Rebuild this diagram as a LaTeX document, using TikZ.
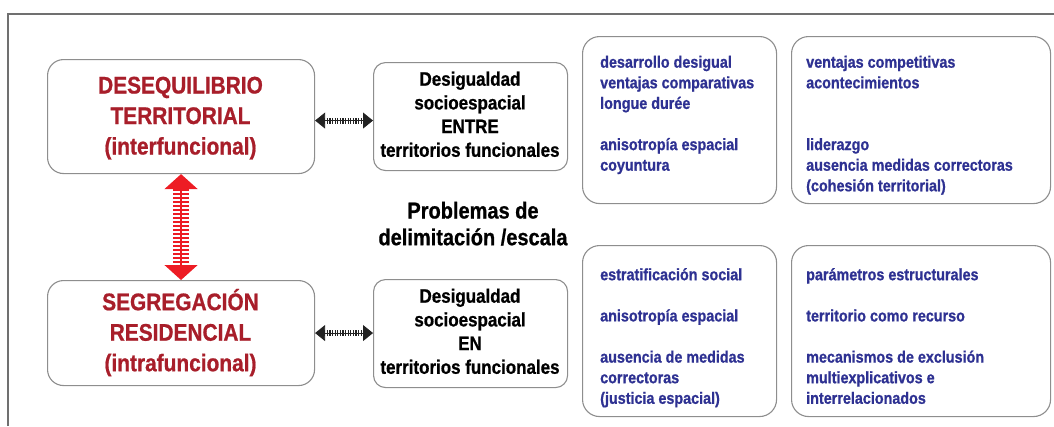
\documentclass[tikz,border=0pt]{standalone}
\usepackage{fontspec}
\setmainfont[FakeStretch=0.87,BoldFeatures={FakeBold=0.8}]{Liberation Sans}
\usetikzlibrary{arrows.meta}
\definecolor{boxgray}{HTML}{8E8E8E}
\definecolor{framegray}{HTML}{707070}
\definecolor{darkred}{HTML}{A81E2A}
\definecolor{navy}{HTML}{2E3192}
\definecolor{arrred}{HTML}{ED1C24}
\definecolor{arrblack}{HTML}{222222}
\newcommand\tstr[1]{\rule{0pt}{#1}}
\begin{document}
\begin{tikzpicture}[x=1pt,y=-1pt,
  box/.style={draw=boxgray, line width=1.1pt, fill=white, inner sep=0pt, anchor=north west},
  redbox/.style={box, rounded corners=16pt},
  blackbox/.style={box, rounded corners=12pt},
  bluebox/.style={box, rounded corners=17pt},
  redtext/.style={inner sep=0pt, anchor=north, align=center, text=darkred, font=\bfseries\fontsize{24}{30.5}\selectfont},
  blacktext/.style={inner sep=0pt, anchor=north, align=center, text=black, font=\bfseries\fontsize{19.5}{23.7}\selectfont},
  bluetext/.style={inner sep=0pt, anchor=north west, align=left, text=navy, font=\bfseries\fontsize{16.5}{20.6}\selectfont},
  probtext/.style={inner sep=0pt, anchor=north, align=center, text=black, font=\bfseries\fontsize{23}{26.7}\selectfont},
  hcore/.style={draw=arrblack, line width=0.8pt, {Triangle[length=10pt,width=16pt]}-{Triangle[length=10pt,width=16pt]}},
  hshaft/.style={draw=arrblack, line width=6pt, dash pattern=on 1.3pt off 1.3pt, shorten <=9pt, shorten >=9pt},
  vcore/.style={draw=arrred, line width=1.6pt, {Triangle[length=15pt,width=33pt]}-{Triangle[length=15pt,width=33pt]}},
  vshaft/.style={draw=arrred, line width=16pt, dash pattern=on 2pt off 2pt, shorten <=15pt, shorten >=15pt}
]
\useasboundingbox (0,0) rectangle (1054,426);
\coordinate (fa) at (8,426);
\coordinate (fb) at (8,14);
\coordinate (fc) at (1054,14);
\draw[framegray, line width=1.5pt] (fa) -- (fb) -- (fc);

% boxes
\node[redbox, minimum width=267pt, minimum height=114pt] (r1) at (47,59) {};
\node[redbox, minimum width=267pt, minimum height=105pt] (r2) at (47,280) {};
\node[blackbox, minimum width=194pt, minimum height=108pt] (b1) at (373,62) {};
\node[blackbox, minimum width=194pt, minimum height=108pt] (b2) at (373,279) {};
\node[bluebox, minimum width=194pt, minimum height=167pt] (c1) at (582,36) {};
\node[bluebox, minimum width=259pt, minimum height=167pt] (c2) at (791,36) {};
\node[bluebox, minimum width=194pt, minimum height=171pt] (c3) at (582,245) {};
\node[bluebox, minimum width=259pt, minimum height=171pt] (c4) at (791,245) {};

% texts
\node[redtext] (r1t) at (180.5,69.3) {\tstr{24pt}DESEQUILIBRIO\\TERRITORIAL\\(interfuncional)};
\node[redtext] (r2t) at (180.5,286) {\tstr{24pt}SEGREGACIÓN\\RESIDENCIAL\\(intrafuncional)};
\node[blacktext] (b1t) at (470,65.5) {\tstr{20pt}Desigualdad\\socioespacial\\ENTRE\\territorios funcionales};
\node[blacktext] (b2t) at (470,282.5) {\tstr{20pt}Desigualdad\\socioespacial\\EN\\territorios funcionales};
\node[probtext] (pt) at (473,194.3) {\tstr{24pt}Problemas de\\delimitación /escala};
\node[bluetext] (c1t) at (600,51.5) {\tstr{16pt}desarrollo desigual\\ventajas comparativas\\longue durée\\\mbox{}\\anisotropía espacial\\coyuntura};
\node[bluetext] (c2t) at (806,51.5) {\tstr{16pt}ventajas competitivas\\acontecimientos\\\mbox{}\\\mbox{}\\liderazgo\\ausencia medidas correctoras\\(cohesión territorial)};
\node[bluetext] (c3t) at (600,264) {\tstr{16pt}estratificación social\\\mbox{}\\anisotropía espacial\\\mbox{}\\ausencia de medidas\\correctoras\\(justicia espacial)};
\node[bluetext] (c4t) at (806,264) {\tstr{16pt}parámetros estructurales\\\mbox{}\\territorio como recurso\\\mbox{}\\mecanismos de exclusión\\multiexplicativos e\\interrelacionados};

% connectors
\draw[hshaft] ([yshift=-4pt]r1.east) -- ([yshift=-4pt]b1.west);
\draw[hcore] ([yshift=-4pt]r1.east) -- ([yshift=-4pt]b1.west);
\draw[hshaft] (r2.east) -- (r2.east -| b2.west);
\draw[hcore] (r2.east) -- (r2.east -| b2.west);
\draw[vshaft] (r1.south) -- (r2.north);
\draw[vcore] (r1.south) -- (r2.north);
\end{tikzpicture}
\end{document}
